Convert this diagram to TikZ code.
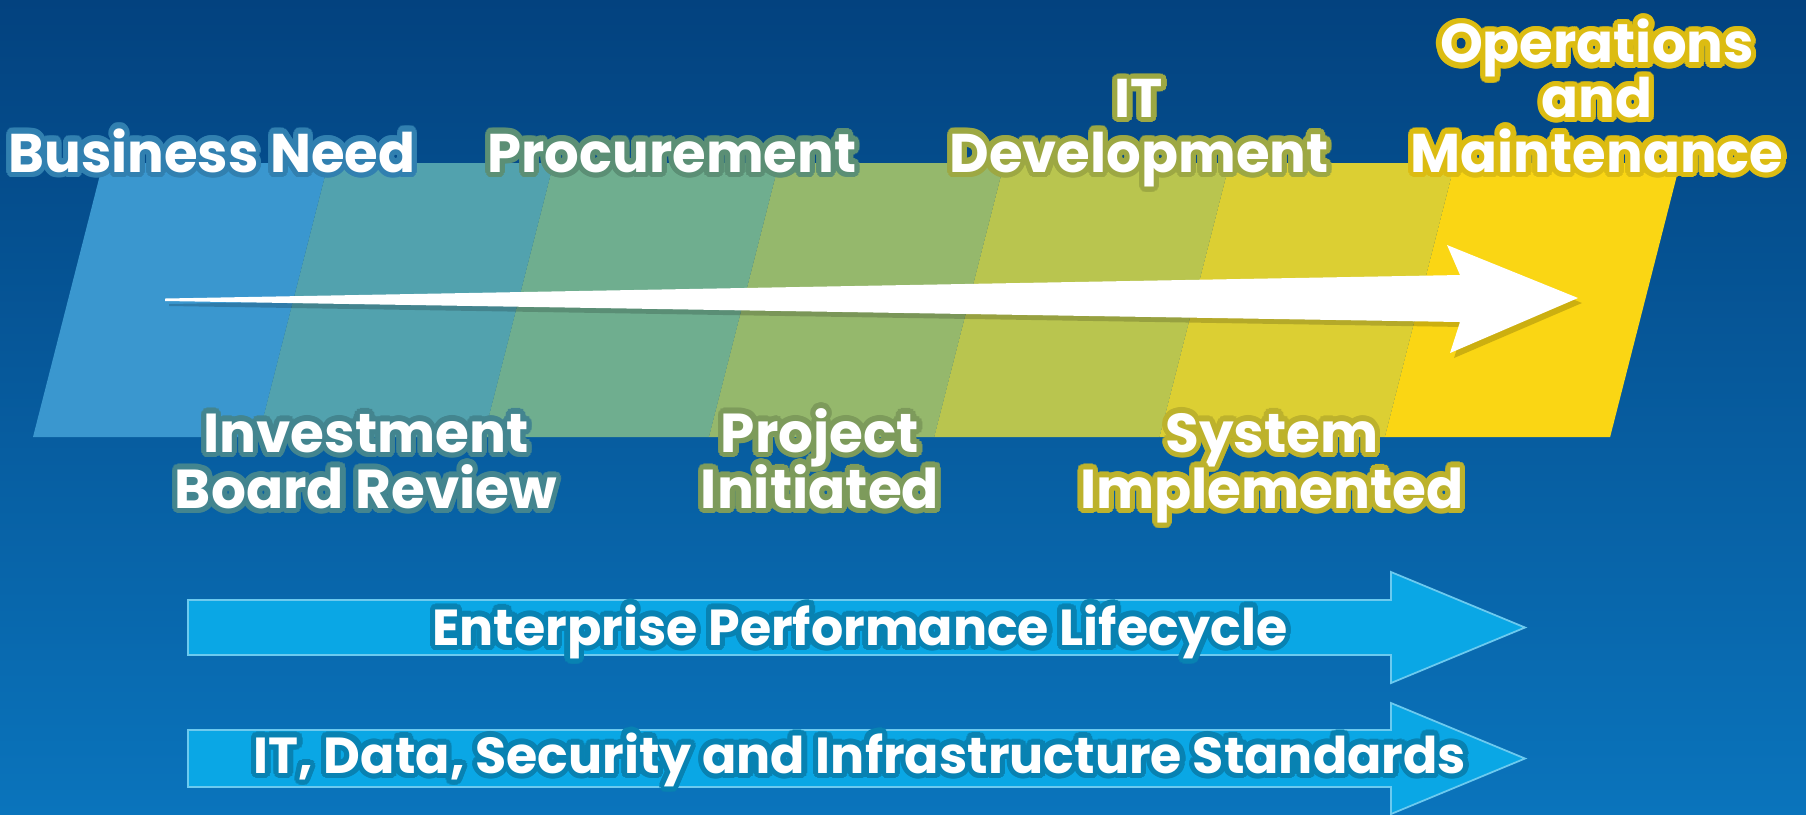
\documentclass[tikz,border=0pt]{standalone}
\usepackage{fontspec}
\setmainfont{Poppins}
\usepackage[copies]{contour}
\contourlength{1.5pt}
\contournumber{20}
\usetikzlibrary{positioning}

\definecolor{bgtop}{HTML}{03427F}
\definecolor{bgbot}{HTML}{0A74BC}
\definecolor{segA}{HTML}{3A97CF}
\definecolor{segB}{HTML}{52A2AE}
\definecolor{segC}{HTML}{6FAE8F}
\definecolor{segD}{HTML}{95B86C}
\definecolor{segE}{HTML}{B9C54F}
\definecolor{segF}{HTML}{DCCF33}
\definecolor{segG}{HTML}{FAD614}
\definecolor{lane}{HTML}{0AA7E5}

\tikzset{
  phase/.style={text=white, align=center, inner sep=0pt, anchor=base,
                font={\fontsize{15.5}{15.5}\selectfont\bfseries\lineskiplimit=-30pt}},
  milestone/.style={phase, font={\fontsize{15.6}{15.9}\selectfont\bfseries\lineskiplimit=-30pt}},
  lanetext/.style={text=white, inner sep=0pt, anchor=base,
                font=\fontsize{14.4}{15}\selectfont\bfseries},
  lanebar/.style={fill=lane, draw=lane!60!white, line width=0.5pt}
}

\begin{document}
\begin{tikzpicture}[x=0.01cm, y=-0.01cm]
        \useasboundingbox (0,0) rectangle (1806,814);
        \fill [top color=bgtop, bottom color=bgbot] (0,0) rectangle (1806,814);

%% phase band
        \foreach \i/\c in {0/segA, 1/segB, 2/segC, 3/segD, 4/segE, 5/segF, 6/segG}
          \fill [\c] ({103+225.3*\i},163) -- ({328.3+225.3*\i},163)
                     -- ({258.3+225.3*\i},437) -- ({33+225.3*\i},437) -- cycle;

%% white arrow
        \fill [black, opacity=0.18] (169,304) -- (1464,280) -- (1451,250) -- (1582,303)
                     -- (1454,358) -- (1464,327) -- (169,306) -- cycle;
        \fill [white] (165,298.5) -- (1460,275) -- (1447,245) -- (1578,298)
                     -- (1450,353) -- (1460,322) -- (165,301) -- cycle;

%% lanes
        \draw [lanebar] (188,600) -- (1391,600) -- (1391,572) -- (1525,627.5)
                     -- (1391,683) -- (1391,655) -- (188,655) -- cycle;
        \draw [lanebar] (188,730) -- (1391,730) -- (1391,703) -- (1525,758.5)
                     -- (1391,814) -- (1391,787) -- (188,787) -- cycle;

%% labels
        \node [phase] (need) at (212,172) {\contour{segA!85!black}{Business Need}};
        \node [phase] (procure) at (672,172) {\contour{segC!82!black}{Procurement}};
        \node [phase] (itdev) at (1139,172)
              {\contour{segE!85!black}{IT}\\\contour{segE!85!black}{Development}};
        \node [phase] (ops) at (1597,172)
              {\contour{segG!88!black}{Operations}\\\contour{segG!88!black}{and}\\\contour{segG!88!black}{Maintenance}};
        \node [milestone] (review) at (366,508)
              {\contour{segB!82!black}{Investment}\\\contour{segB!82!black}{Board Review}};
        \node [milestone] (project) at (820,508)
              {\contour{segD!84!black}{Project}\\\contour{segD!84!black}{Initiated}};
        \node [milestone] (system) at (1272,508)
              {\contour{segF!86!black}{System}\\\contour{segF!86!black}{Implemented}};

        \node [lanetext] (epl) at (860,645) {\contour{lane!78!black}{Enterprise Performance Lifecycle}};
        \node [lanetext] (standards) at (860,773) {\contour{lane!78!black}{IT, Data, Security and Infrastructure Standards}};
\end{tikzpicture}
\end{document}
